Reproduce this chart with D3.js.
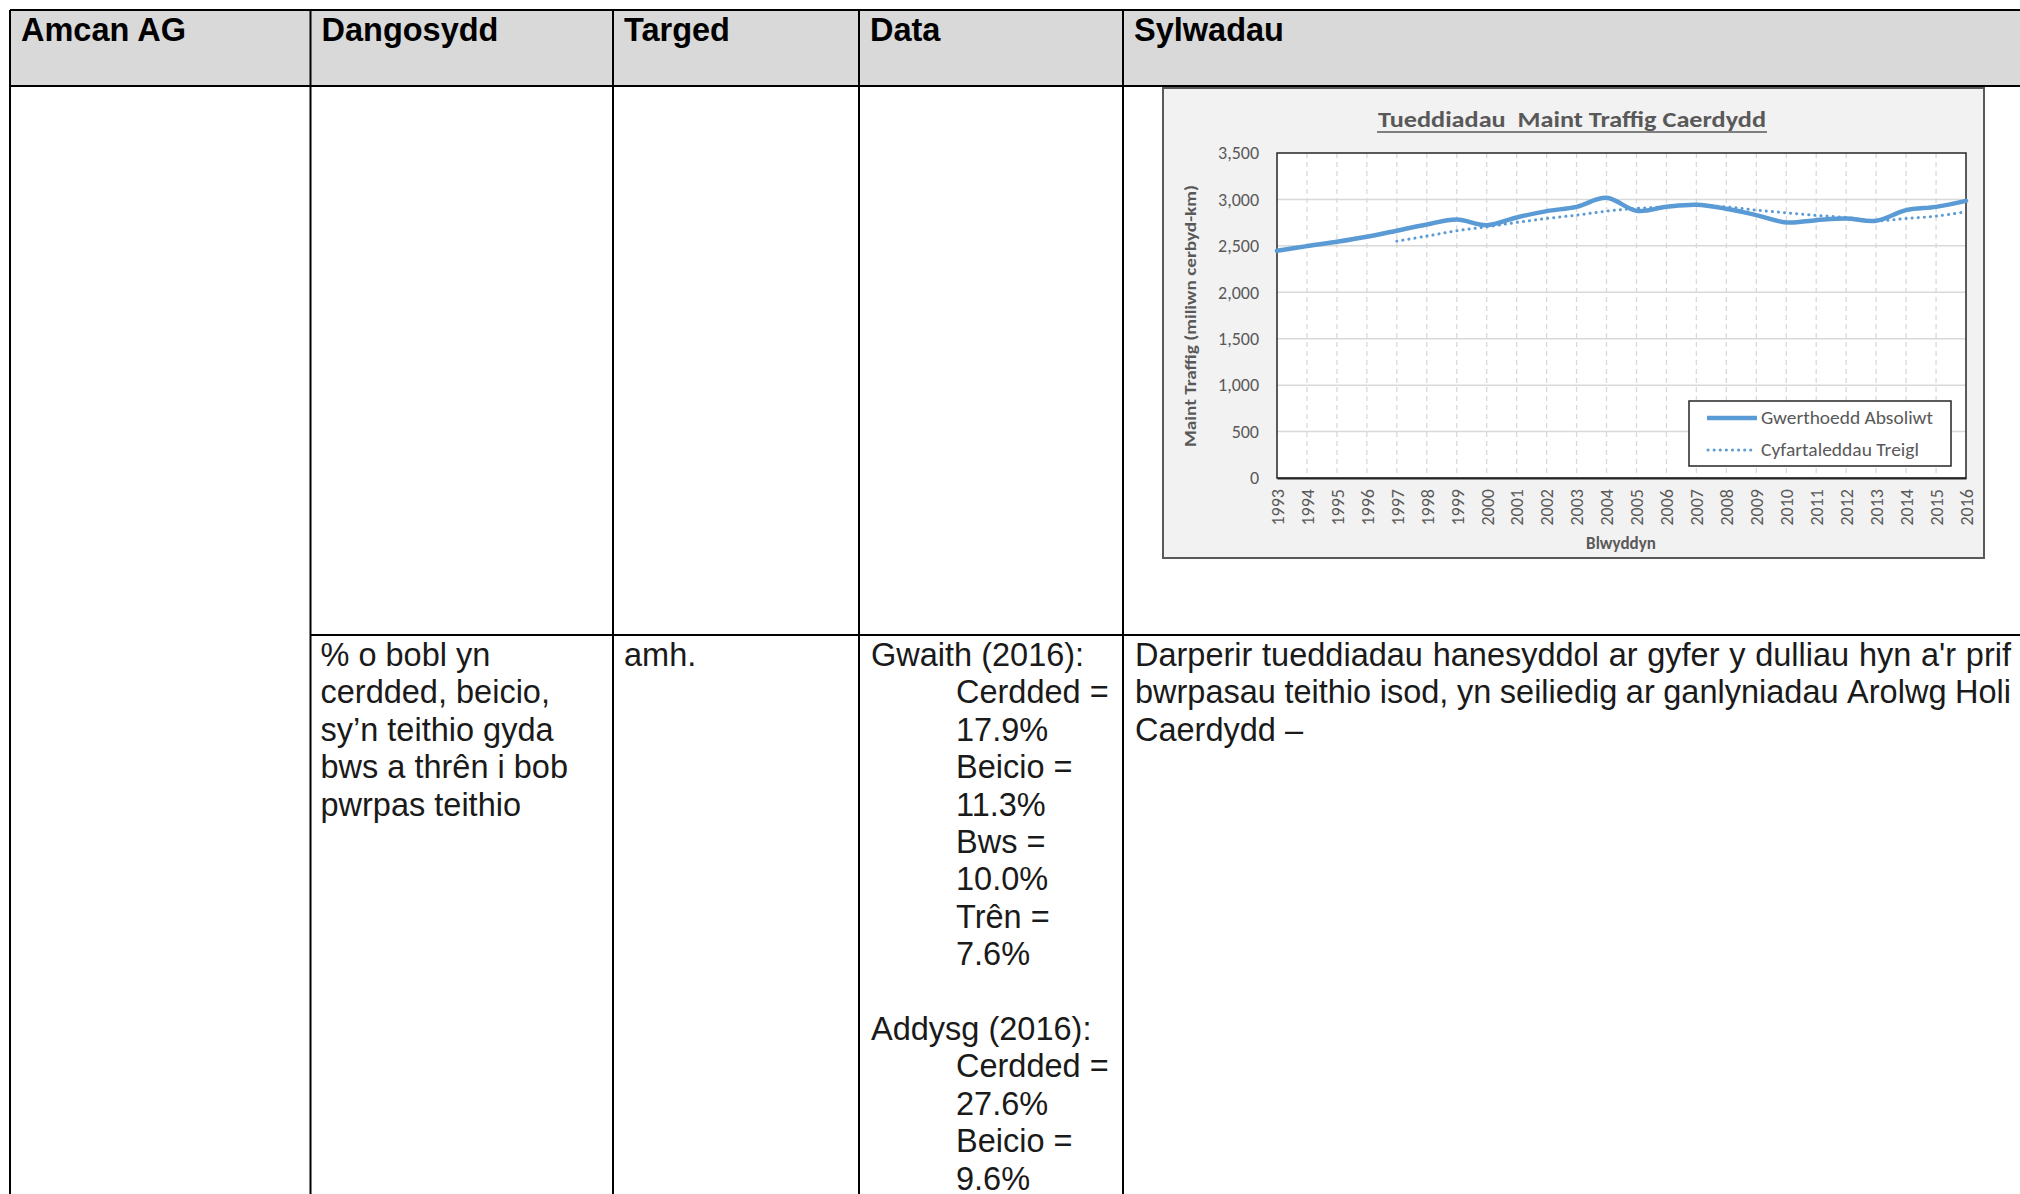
<!DOCTYPE html>
<html>
<head>
<meta charset="utf-8">
<script src="https://cdn.jsdelivr.net/npm/d3@7"></script>
<style>
  body { margin: 0; background: #fff; }
  svg { display: block; }
</style>
</head>
<body>
<script>
// ---- table content ----
var headers = ["Amcan AG", "Dangosydd", "Targed", "Data", "Sylwadau"];
var indicatorLines = ["% o bobl yn", "cerdded, beicio,", "sy\u2019n teithio gyda", "bws a thrên i bob", "pwrpas teithio"];
var targetText = "amh.";
var workTitle = "Gwaith (2016):";
var workModes = ["Cerdded =", "Beicio =", "Bws =", "Trên ="];
var workShares = ["17.9%", "11.3%", "10.0%", "7.6%"];
var eduTitle = "Addysg (2016):";
var eduModes = ["Cerdded =", "Beicio ="];
var eduShares = ["27.6%", "9.6%"];
var commentLines = [
  "Darperir tueddiadau hanesyddol ar gyfer y dulliau hyn a'r prif",
  "bwrpasau teithio isod, yn seiliedig ar ganlyniadau Arolwg Holi",
  "Caerdydd \u2013"
];

// ---- chart content ----
var chartTitle = "Tueddiadau  Maint Traffig Caerdydd";
var yTitle = "Maint Traffig (miliwn cerbyd-km)";
var xTitle = "Blwyddyn";
var legendLabels = ["Gwerthoedd Absoliwt", "Cyfartaleddau Treigl"];
var years = ["1993","1994","1995","1996","1997","1998","1999","2000","2001","2002","2003","2004",
             "2005","2006","2007","2008","2009","2010","2011","2012","2013","2014","2015","2016"];
var absoluteValues = [2447, 2497, 2544, 2598, 2663, 2730, 2784, 2723, 2806, 2874, 2920, 3017,
                      2877, 2920, 2942, 2899, 2831, 2752, 2777, 2795, 2770, 2885, 2920, 2985];
var rollingAverages = [null, null, null, null, 2551, 2605, 2663, 2705, 2752, 2795, 2831, 2874,
                       2903, 2920, 2939, 2920, 2885, 2856, 2828, 2806, 2770, 2795, 2820, 2867];
var yTicks = [0, 500, 1000, 1500, 2000, 2500, 3000, 3500];

var W = 2020, H = 1194;
var svg = d3.select("body").append("svg").attr("width", W).attr("height", H);

// ---------- table ----------
var colX = [10, 310.5, 613, 859, 1123];
var tableTop = 10, headerBottom = 86, rowLine = 635;
var tFont = "'Liberation Sans', Arial, sans-serif", tSize = 32.5, lineStep = 37.4;

svg.append("rect").attr("x", colX[0]).attr("y", tableTop)
  .attr("width", W + 20 - colX[0]).attr("height", headerBottom - tableTop)
  .attr("fill", "#d9d9d9");

var grid = svg.append("g").attr("stroke", "#000").attr("stroke-width", 2);
grid.append("line").attr("x1", colX[0]).attr("x2", W + 20).attr("y1", tableTop).attr("y2", tableTop);
grid.append("line").attr("x1", colX[0]).attr("x2", W + 20).attr("y1", headerBottom).attr("y2", headerBottom);
grid.append("line").attr("x1", colX[1]).attr("x2", W + 20).attr("y1", rowLine).attr("y2", rowLine);
colX.forEach(function (x) {
  grid.append("line").attr("x1", x).attr("x2", x).attr("y1", tableTop).attr("y2", H + 20);
});

svg.append("g").selectAll("text").data(headers).join("text")
  .attr("x", function (d, i) { return colX[i] + 11; })
  .attr("y", 41)
  .attr("font-family", tFont).attr("font-size", tSize).attr("font-weight", "bold")
  .attr("fill", "#000").text(function (d) { return d; });

var body = svg.append("g").attr("font-family", tFont).attr("font-size", tSize).attr("fill", "#1a1a1a");
var base0 = 666;

body.selectAll("text.ind").data(indicatorLines).join("text").attr("class", "ind")
  .attr("x", colX[1] + 10).attr("y", function (d, i) { return base0 + i * lineStep; })
  .text(function (d) { return d; });

body.append("text").attr("x", colX[2] + 11).attr("y", base0).text(targetText);

var dataRows = [];
dataRows.push({ t: workTitle, indent: false });
workModes.forEach(function (m, i) {
  dataRows.push({ t: m, indent: true });
  dataRows.push({ t: workShares[i], indent: true });
});
dataRows.push({ t: "", indent: false });
dataRows.push({ t: eduTitle, indent: false });
eduModes.forEach(function (m, i) {
  dataRows.push({ t: m, indent: true });
  dataRows.push({ t: eduShares[i], indent: true });
});
body.selectAll("text.dat").data(dataRows).join("text").attr("class", "dat")
  .attr("x", function (d) { return d.indent ? colX[3] + 97 : colX[3] + 12; })
  .attr("y", function (d, i) { return base0 + i * lineStep; })
  .text(function (d) { return d.t; });

// justified comment text
var cx0 = colX[4] + 12, cx1 = 2011;
commentLines.forEach(function (line, li) {
  var y = base0 + li * lineStep;
  var words = line.split(" ");
  if (li === commentLines.length - 1) {
    body.append("text").attr("x", cx0).attr("y", y).text(line);
    return;
  }
  var nodes = words.map(function (w) {
    return body.append("text").attr("y", y).text(w);
  });
  var widths = nodes.map(function (n) { return n.node().getComputedTextLength(); });
  var gap = (cx1 - cx0 - d3.sum(widths)) / (words.length - 1);
  var x = cx0;
  nodes.forEach(function (n, i) { n.attr("x", x); x += widths[i] + gap; });
});

// ---------- chart ----------
var box = { x: 1163, y: 88, w: 821, h: 470 };
var plot = { l: 1277, r: 1966, t: 153, b: 478 };
var cFont = "Carlito, Calibri, Lato, 'Liberation Sans', sans-serif";
var blue = "#5b9bd5", txt = "#595959";

var chart = svg.append("g");
chart.append("rect").attr("x", box.x).attr("y", box.y).attr("width", box.w).attr("height", box.h)
  .attr("fill", "#f2f2f2").attr("stroke", "#595959").attr("stroke-width", 2);

var x = d3.scalePoint().domain(years).range([plot.l, plot.r]).padding(0);
var y = d3.scaleLinear().domain([0, 3500]).range([plot.b, plot.t]);

chart.append("rect").attr("x", plot.l).attr("y", plot.t)
  .attr("width", plot.r - plot.l).attr("height", plot.b - plot.t).attr("fill", "#fff");

// vertical dashed grid
chart.append("g").selectAll("line").data(years.slice(1, -1)).join("line")
  .attr("x1", function (d) { return x(d); }).attr("x2", function (d) { return x(d); })
  .attr("y1", plot.t).attr("y2", plot.b)
  .attr("stroke", "#d9d9d9").attr("stroke-width", 1.3).attr("stroke-dasharray", "5,4");

// horizontal grid
chart.append("g").selectAll("line").data(yTicks.slice(1, -1)).join("line")
  .attr("x1", plot.l).attr("x2", plot.r)
  .attr("y1", function (d) { return y(d); }).attr("y2", function (d) { return y(d); })
  .attr("stroke", "#d9d9d9").attr("stroke-width", 1.5);

chart.append("rect").attr("x", plot.l).attr("y", plot.t)
  .attr("width", plot.r - plot.l).attr("height", plot.b - plot.t)
  .attr("fill", "none").attr("stroke", "#262626").attr("stroke-width", 1.5);

// axes
var yAxis = chart.append("g").attr("transform", "translate(" + plot.l + ",0)")
  .call(d3.axisLeft(y).tickValues(yTicks).tickSize(0).tickPadding(18).tickFormat(d3.format(",")));
yAxis.select(".domain").remove();
yAxis.selectAll("text").attr("font-family", cFont).attr("font-size", 18).attr("fill", txt);

var xAxis = chart.append("g").attr("transform", "translate(0," + plot.b + ")")
  .call(d3.axisBottom(x).tickSize(0));
xAxis.select(".domain").attr("stroke", "#262626").attr("stroke-width", 2);
xAxis.selectAll("text")
  .attr("font-family", cFont).attr("font-size", 18).attr("fill", txt)
  .attr("transform", "rotate(-90)").attr("text-anchor", "end")
  .attr("x", -11).attr("y", 0).attr("dy", "0.35em");

// lines
var line = d3.line()
  .defined(function (d) { return d != null; })
  .x(function (d, i) { return x(years[i]); })
  .y(function (d) { return y(d); })
  .curve(d3.curveCardinal.tension(0));

chart.append("path").datum(rollingAverages).attr("d", line)
  .attr("fill", "none").attr("stroke", blue).attr("stroke-width", 3)
  .attr("stroke-linecap", "round").attr("stroke-dasharray", "0.1,6");

chart.append("path").datum(absoluteValues).attr("d", line)
  .attr("fill", "none").attr("stroke", blue).attr("stroke-width", 4.5)
  .attr("stroke-linecap", "round").attr("stroke-linejoin", "round");

// titles
chart.append("text").attr("x", 1572).attr("y", 127).attr("text-anchor", "middle")
  .attr("font-family", cFont).attr("font-size", 22).attr("font-weight", "bold").attr("fill", txt)
  .attr("textLength", 388).attr("lengthAdjust", "spacingAndGlyphs")
  .style("white-space", "pre").text(chartTitle);
chart.append("line").attr("x1", 1572 - 195).attr("x2", 1572 + 195).attr("y1", 132).attr("y2", 132)
  .attr("stroke", txt).attr("stroke-width", 1.6);

chart.append("text")
  .attr("transform", "translate(1196,316) rotate(-90)").attr("text-anchor", "middle")
  .attr("font-family", cFont).attr("font-size", 16).attr("font-weight", "bold").attr("fill", txt)
  .attr("textLength", 262).attr("lengthAdjust", "spacingAndGlyphs")
  .text(yTitle);

chart.append("text").attr("x", 1621).attr("y", 549).attr("text-anchor", "middle")
  .attr("font-family", cFont).attr("font-size", 17).attr("font-weight", "bold").attr("fill", txt)
  .text(xTitle);

// legend
var lg = chart.append("g");
lg.append("rect").attr("x", 1689).attr("y", 401).attr("width", 262).attr("height", 65)
  .attr("fill", "#fff").attr("stroke", "#262626").attr("stroke-width", 1.5);
lg.append("line").attr("x1", 1707).attr("x2", 1757).attr("y1", 418).attr("y2", 418)
  .attr("stroke", blue).attr("stroke-width", 4.5);
lg.append("line").attr("x1", 1708).attr("x2", 1752).attr("y1", 450).attr("y2", 450)
  .attr("stroke", blue).attr("stroke-width", 3).attr("stroke-linecap", "round")
  .attr("stroke-dasharray", "0.1,6");
lg.selectAll("text").data(legendLabels).join("text")
  .attr("x", 1761).attr("y", function (d, i) { return 424 + i * 32; })
  .attr("font-family", cFont).attr("font-size", 18).attr("fill", txt)
  .attr("textLength", function (d, i) { return i === 0 ? 172 : 158; })
  .attr("lengthAdjust", "spacingAndGlyphs")
  .text(function (d) { return d; });
</script>
</body>
</html>
